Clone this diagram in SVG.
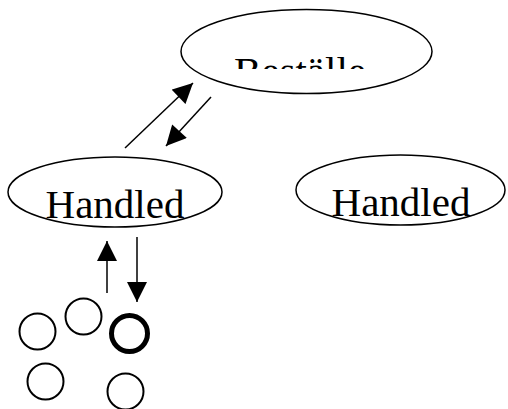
<svg xmlns="http://www.w3.org/2000/svg" width="508" height="409" viewBox="0 0 508 409">
  <style>
    .node { fill: none; stroke: #000; stroke-width: 1.5; }
    .label { font-family: "Liberation Serif", "Times New Roman", serif; font-size: 41px; fill: #000; }
    .edge { stroke: #000; stroke-width: 1.5; fill: none; }
    .dot { fill: none; stroke: #000; stroke-width: 2; }
  </style>
  <defs>
    <marker id="head" viewBox="0 0 10 10" refX="10" refY="5" markerUnits="userSpaceOnUse" markerWidth="21" markerHeight="20" orient="auto">
      <path d="M0,0 L10,5 L0,10 Z" fill="#000"/>
    </marker>
    <clipPath id="topClip">
      <rect x="0" y="0" width="508" height="69"/>
    </clipPath>
  </defs>
  <rect width="508" height="409" fill="#fff"/>

  <g id="bestalle">
    <ellipse class="node" cx="306.5" cy="51.5" rx="125.5" ry="42"/>
    <text class="label" x="300" y="85" text-anchor="middle" clip-path="url(#topClip)">Beställe</text>
  </g>

  <g id="handled-left">
    <ellipse class="node" cx="115" cy="192" rx="107" ry="35"/>
    <text class="label" x="115" y="218" text-anchor="middle">Handled</text>
  </g>

  <g id="handled-right">
    <ellipse class="node" cx="400.5" cy="190" rx="104.5" ry="35"/>
    <text class="label" x="401" y="216" text-anchor="middle">Handled</text>
  </g>

  <g id="connectors">
    <line class="edge" x1="125" y1="148" x2="193" y2="83" marker-end="url(#head)"/>
    <line class="edge" x1="211" y1="97" x2="166" y2="146" marker-end="url(#head)"/>
    <line class="edge" x1="107" y1="293" x2="107" y2="241" marker-end="url(#head)"/>
    <line class="edge" x1="137" y1="237" x2="137" y2="302" marker-end="url(#head)"/>
  </g>

  <g id="circles">
    <circle class="dot" cx="37.5" cy="331.5" r="18"/>
    <circle class="dot" cx="83.5" cy="316.5" r="18"/>
    <circle class="dot" cx="129.5" cy="333.5" r="18" style="stroke-width:5"/>
    <circle class="dot" cx="45.5" cy="381.5" r="18"/>
    <circle class="dot" cx="125.5" cy="391.5" r="18"/>
  </g>
</svg>
